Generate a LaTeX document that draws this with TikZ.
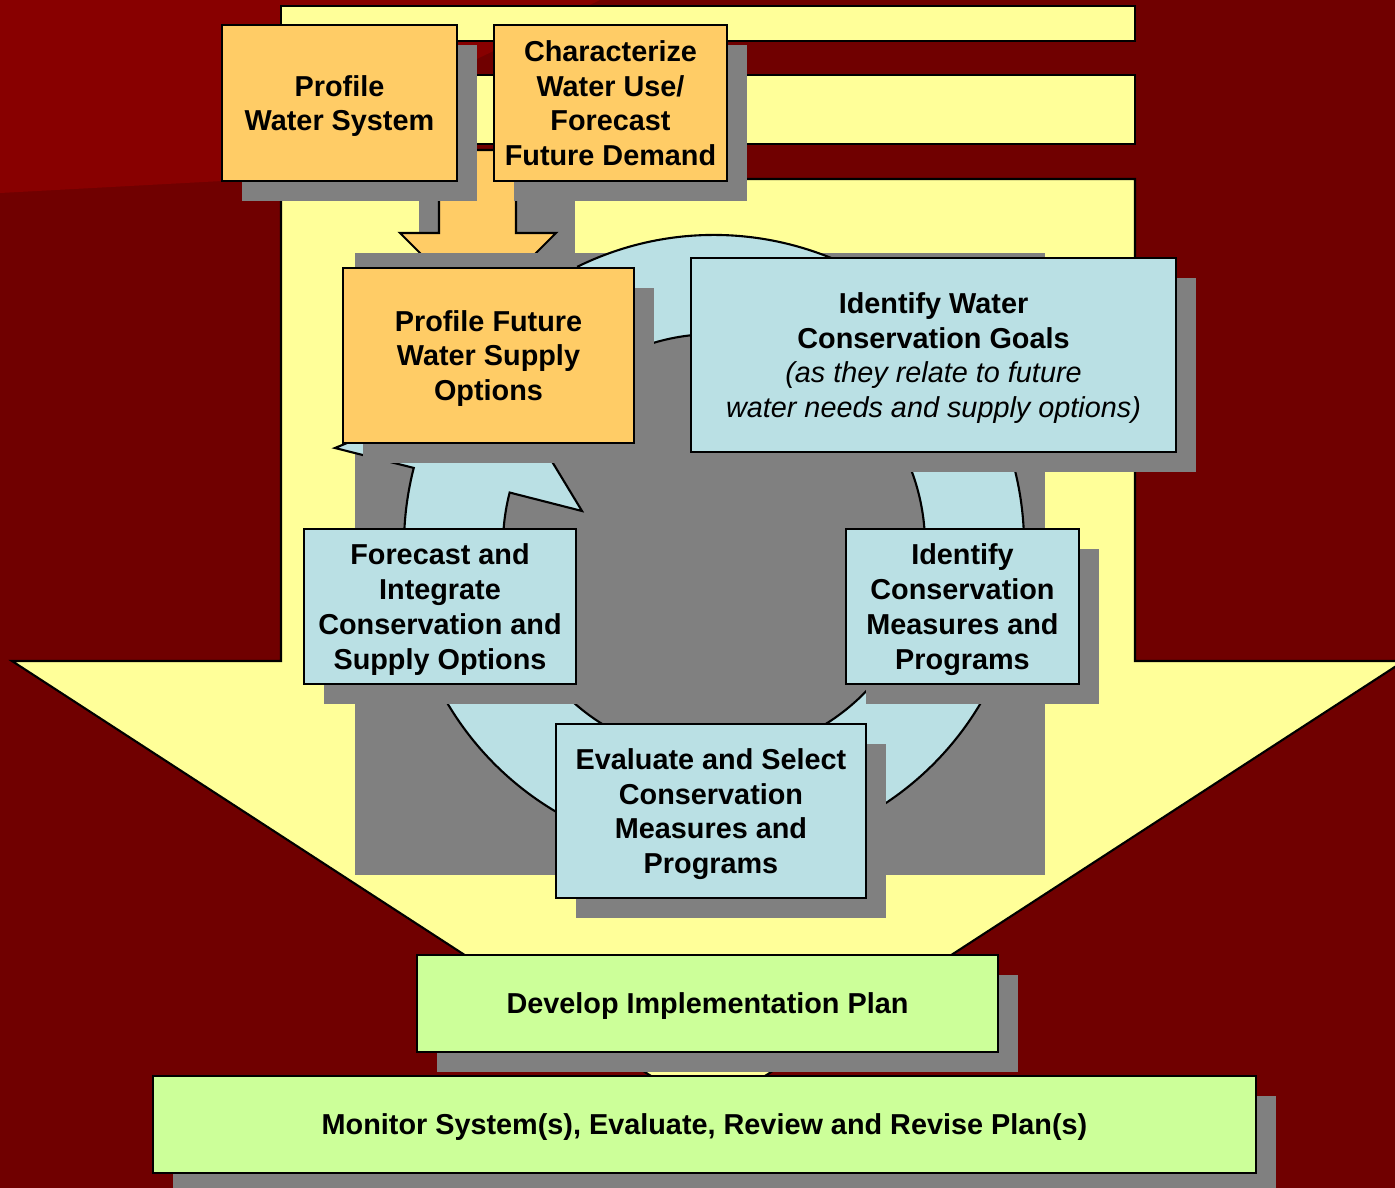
\documentclass[tikz,border=0pt]{standalone}
\usepackage{fontspec}
\setsansfont{Liberation Sans}
\usetikzlibrary{shadows,calc}
\definecolor{darkred}{HTML}{700000}
\definecolor{litred}{HTML}{880000}
\definecolor{pale}{HTML}{FFFF99}
\definecolor{stepor}{HTML}{FFCC66}
\definecolor{stepblue}{HTML}{BAE0E4}
\definecolor{stepgreen}{HTML}{CCFF99}
\definecolor{shadowgray}{HTML}{808080}
\tikzset{
  outline/.style={draw=black, line width=0.6pt},
  stepbox/.style={outline, align=center, inner sep=0pt, outer sep=0pt, text depth=0pt,
    font=\sffamily\bfseries\fontsize{8.2}{9.9}\selectfont,
    drop shadow={shadow xshift=2mm, shadow yshift=-2mm, opacity=1, fill=shadowgray}}
}
\newcommand{\planstep}[6] {\node at (#1) (#2) [stepbox, fill=#3, minimum width=#4mm, minimum height=#5mm] {#6};}

\begin{document}
\begin{tikzpicture}[x=0.1mm, y=-0.1mm]

\useasboundingbox (0,0) rectangle (1395,1188);
\clip (0,0) rectangle (1395,1188);
\fill [darkred] (0,0) rectangle (1395,1188);
\fill [litred] (0,0) -- (600,0) -- (222,181) -- (0,193) -- cycle;

\filldraw [outline, fill=pale] (281,6) rectangle (1135,41);
\filldraw [outline, fill=pale] (281,75) rectangle (1135,144);
\filldraw [outline, fill=pale] (281,179) -- (1135,179) -- (1135,661) -- (1404,661) -- (708,1113) -- (12,661) -- (281,661) -- cycle;

\fill [shadowgray] (419,200) rectangle (575,253);
\filldraw [outline, fill=stepor] (439,150) -- (516,150) -- (516,233) -- (556,233) -- (478,311) -- (400,233) -- (439,233) -- cycle;

\planstep {339.5,103}{pws}{stepor}{23.5}{15.6}{Profile\\Water System}
\planstep {610.5,103}{cwu}{stepor}{23.3}{15.6}{Characterize\\Water Use/\\Forecast\\Future Demand}

\fill [shadowgray] (355,253) rectangle (1045,875);
\coordinate (hub) at (714,545);
\filldraw [outline, fill=stepblue] ($(hub)+(-116:310)$) arc [start angle=-116, end angle=194.4, radius=310] -- (335,448) -- (502,379) -- (582,511) -- ($(hub)+(194.4:211)$) arc [start angle=194.4, end angle=-116, radius=211] -- cycle;

\planstep {488.5,355.5}{pfs}{stepor}{29.1}{17.5}{Profile Future\\Water Supply\\Options}
\planstep {933.5,355}{iwg}{stepblue}{48.5}{19.4}{Identify Water\\Conservation Goals\\{\mdseries\itshape (as they relate to future}\\{\mdseries\itshape water needs and supply options)}}
\planstep {440,606.5}{fis}{stepblue}{27.2}{15.5}{Forecast and\\Integrate\\Conservation and\\Supply Options}
\planstep {962.5,606.5}{icm}{stepblue}{23.3}{15.5}{Identify\\Conservation\\Measures and\\Programs}
\planstep {711,811}{esm}{stepblue}{31.0}{17.4}{Evaluate and Select\\Conservation\\Measures and\\Programs}
\planstep {707.5,1003.5}{dip}{stepgreen}{58.1}{9.7}{Develop Implementation Plan}
\planstep {704.5,1124.5}{msr}{stepgreen}{110.3}{9.7}{Monitor System(s), Evaluate, Review and Revise Plan(s)}

\end{tikzpicture}
\end{document}
